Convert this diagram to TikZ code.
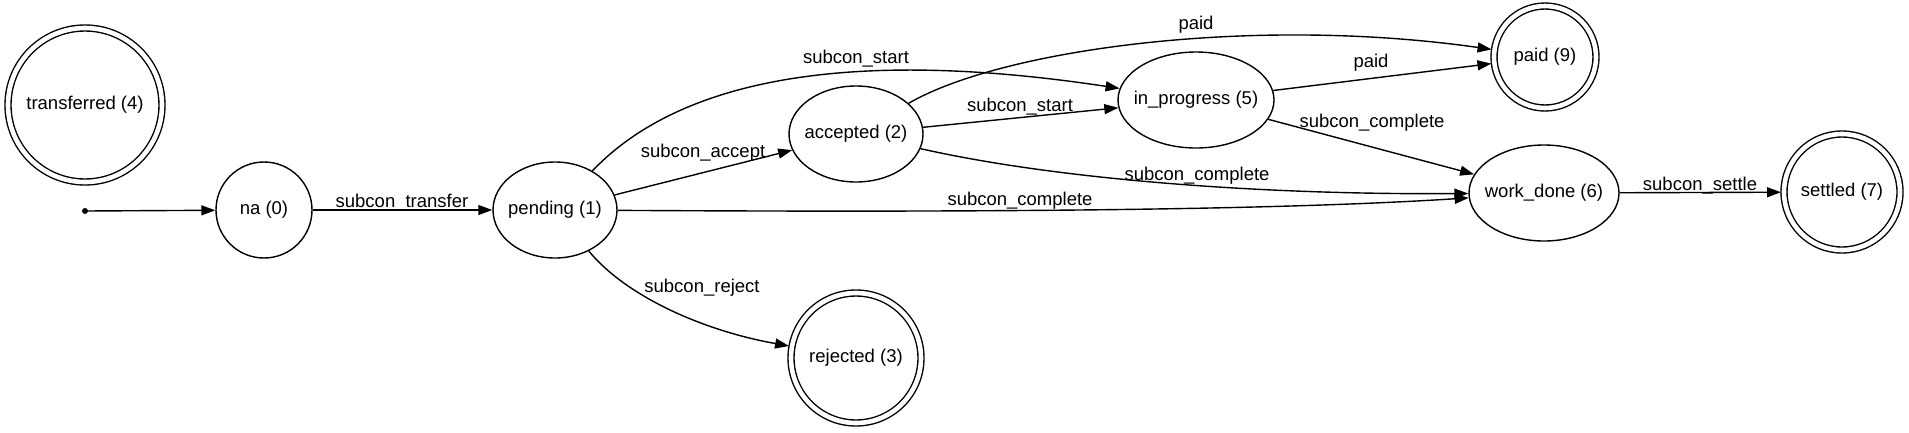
\documentclass[tikz,border=0pt]{standalone}
\usepackage{fontspec}
\setmainfont{Liberation Sans}
\usetikzlibrary{shapes.geometric,arrows.meta}
\newcommand{\zb}[1]{\makebox[0pt]{#1}}
\begin{document}
\begin{tikzpicture}[x=1pt,y=-1pt,
  every node/.style={font=\fontsize{18.5}{22}\selectfont},
  st/.style={draw, circle, line width=1.4pt, inner sep=0pt, minimum size=96pt},
  el/.style={draw, ellipse, line width=1.4pt, inner sep=0pt, minimum height=96pt},
  acc/.style={draw, circle, line width=1.4pt, inner sep=0pt, double, double distance=4.6pt, outer sep=3pt},
  lbl/.style={anchor=base, inner sep=0pt},
  edge/.style={line width=1.4pt, -{Triangle[length=14pt,width=10pt]}}
]
\useasboundingbox (0,0) rectangle (1909,432);

% nodes
\node[acc, minimum size=154pt] (transferred) at (85,105) {\zb{transferred (4)}};
\fill (85,211) circle (3pt);
\coordinate (init) at (85,211);
\node[st] (na) at (264,210) {\zb{na (0)}};
\node[el, minimum width=124pt] (pending) at (555,210) {\zb{pending (1)}};
\node[el, minimum width=134pt] (accepted) at (856,134) {\zb{accepted (2)}};
\node[el, minimum width=156pt] (inprogress) at (1196,100) {\zb{in\_progress (5)}};
\node[acc, minimum size=130pt] (rejected) at (856,358) {\zb{rejected (3)}};
\node[acc, minimum size=102pt] (paid) at (1545,57) {\zb{paid (9)}};
\node[el, minimum width=150pt] (workdone) at (1544,193) {\zb{work\_done (6)}};
\node[acc, minimum size=116pt] (settled) at (1842,192) {\zb{settled (7)}};

% edges
\draw[edge] (init) -- (na);
\draw[edge] (na) -- (pending);
\draw[edge] (pending) -- (accepted);
\draw[edge] (pending) .. controls (660,100) and (800,40) .. (inprogress);
\draw[edge] (accepted) -- (inprogress);
\draw[edge] (accepted) .. controls (1000,50) and (1250,15) .. (paid);
\draw[edge] (inprogress) -- (paid);
\draw[edge] (inprogress) -- (workdone);
\draw[edge] (accepted) .. controls (1050,178) and (1250,195) .. (workdone);
\draw[edge] (pending) .. controls (900,212) and (1250,212) .. (workdone);
\draw[edge] (workdone) -- (settled);
\draw[edge] (pending) .. controls (625,295) and (700,330) .. (rejected);

% labels
\node[lbl] (l1) at (402,207) {subcon\_transfer};
\node[lbl] (l2) at (703,157) {subcon\_accept};
\node[lbl] (l3) at (856,63) {subcon\_start};
\node[lbl] (l4) at (1020,111) {subcon\_start};
\node[lbl] (l5) at (1196,29) {paid};
\node[lbl] (l6) at (1371,67) {paid};
\node[lbl] (l7) at (1197,180) {subcon\_complete};
\node[lbl] (l8) at (1020,205) {subcon\_complete};
\node[lbl] (l9) at (1372,127) {subcon\_complete};
\node[lbl] (l10) at (1700,190) {subcon\_settle};
\node[lbl] (l11) at (702,292) {subcon\_reject};
\end{tikzpicture}
\end{document}
